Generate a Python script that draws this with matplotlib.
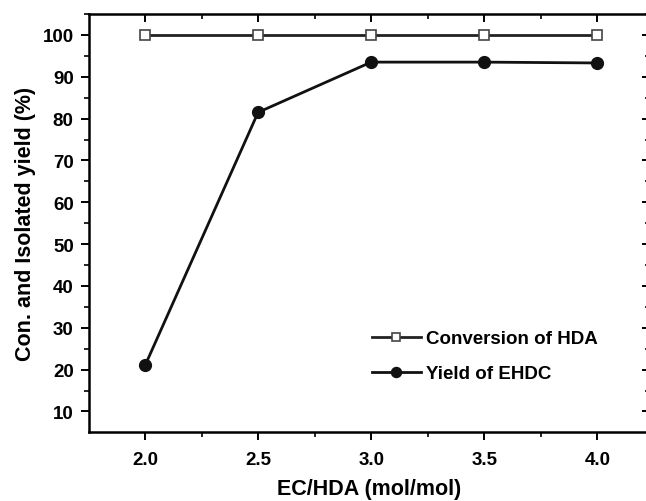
import matplotlib
matplotlib.use("Agg")
import matplotlib.pyplot as plt
from matplotlib.ticker import MultipleLocator

plt.rcParams['font.family'] = ['Liberation Sans', 'DejaVu Sans']
plt.rcParams['font.weight'] = 'bold'

ratio = [2.0, 2.5, 3.0, 3.5, 4.0]
conversion = [100, 100, 100, 100, 100]
yield_ehdc = [21, 81.5, 93.5, 93.5, 93.3]

W, H = 646, 502
fig = plt.figure(figsize=(W/100, H/100), dpi=100)
ax = fig.add_axes([89/W, 1-433/H, (649.5-89)/W, (433-15)/H])

ax.plot(ratio, conversion, color='#222222', lw=2.0, marker='s', ms=7.5,
        mfc='white', mec='#444444', mew=1.2, label='Conversion of HDA')
ax.plot(ratio, yield_ehdc, color='#111111', lw=2.0, marker='o', ms=8.5,
        mfc='#111111', mec='#111111', label='Yield of EHDC')

ax.set_xlim(1.752, 4.231)
ax.set_ylim(5.1, 105)
ax.xaxis.set_major_locator(MultipleLocator(0.5))
ax.xaxis.set_minor_locator(MultipleLocator(0.25))
ax.yaxis.set_minor_locator(MultipleLocator(5))
ax.set_yticks(range(10, 101, 10))

for s in ax.spines.values():
    s.set_linewidth(1.8)
ax.tick_params(axis='both', which='major', direction='out', length=6, width=1.4,
               labelsize=13.5, pad=5)
ax.tick_params(axis='x', which='major', pad=8)
ax.tick_params(axis='both', which='minor', direction='out', length=3.5, width=1.2)
ax.tick_params(axis='x', which='both', top=True)
ax.tick_params(axis='y', which='both', right=True)
for t in ax.xaxis.get_ticklines(minor=False)[1::2] + ax.xaxis.get_ticklines(minor=True)[1::2]:
    t.set_marker(3)
for t in ax.yaxis.get_ticklines(minor=False)[1::2] + ax.yaxis.get_ticklines(minor=True)[1::2]:
    t.set_marker(0)

ax.set_xlabel('EC/HDA (mol/mol)', fontsize=15.5, fontweight='bold', labelpad=7)
ax.set_ylabel('Con. and Isolated yield (%)', fontsize=15.5, fontweight='bold', labelpad=5)

leg = ax.legend(loc='upper left', bbox_to_anchor=(372/W, 1-331/H), bbox_transform=fig.transFigure,
                frameon=False, borderpad=0, borderaxespad=0, markerscale=0.85,
                fontsize=13.5, handlelength=2.6, handletextpad=0.3, labelspacing=0.95)

fig.savefig('out.png', dpi=100)
